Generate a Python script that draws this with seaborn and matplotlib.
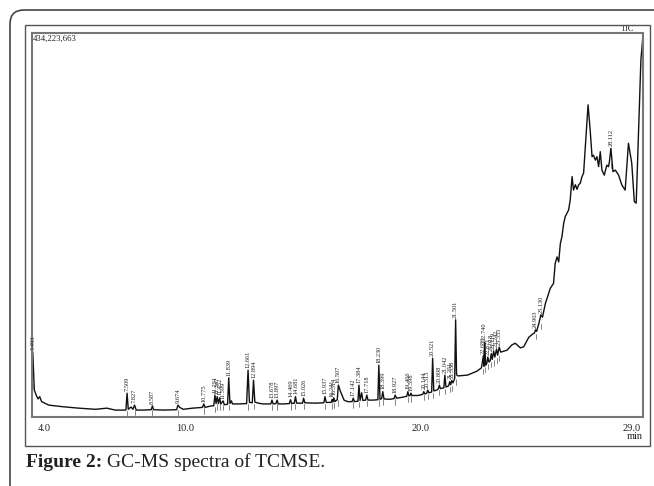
import numpy as np
import pandas as pd
import seaborn as sns
import matplotlib
matplotlib.use("Agg")
import matplotlib.pyplot as plt
from matplotlib.patches import Rectangle, FancyBboxPatch
from matplotlib.transforms import IdentityTransform

# labelled peaks: retention time (min) and apex height (% of max TIC)
peak_times = [3.493, 7.509, 7.827, 8.587, 9.674, 10.775, 11.251, 11.347, 11.452, 11.599,
              11.839, 12.661, 12.894, 13.678, 13.897, 14.469, 14.681, 15.026, 15.937, 16.241,
              16.314, 16.507, 17.142, 17.384, 17.718, 18.230, 18.399, 18.927, 19.466, 19.598,
              20.144, 20.313, 20.521, 20.808, 21.042, 21.251, 21.338, 21.501, 22.680, 22.740,
              22.871, 23.018, 23.119, 23.242, 23.355, 24.903, 25.130, 28.112]
peak_heights = [16.9, 6.2, 3.1, 2.9, 3.1, 3.4, 5.7, 5.3, 5.0, 4.2,
                10.2, 12.2, 9.6, 4.4, 4.4, 4.5, 5.3, 4.9, 5.3, 4.6,
                5.0, 8.3, 4.9, 8.3, 5.7, 13.5, 6.6, 5.7, 6.6, 6.2,
                6.6, 7.0, 15.3, 8.3, 10.9, 9.2, 9.5, 25.3, 15.9, 19.5,
                15.6, 16.5, 17.2, 17.7, 18.2, 22.7, 26.6, 70.0]

# rest of the TIC trace (baseline, peak feet, unlabelled bumps)
base_times = [3.47, 3.56, 3.64, 3.72, 3.79, 3.87, 4.17, 4.73, 5.45, 6.16,
              6.65, 7.00, 7.46, 7.56, 7.68, 7.76, 7.90, 8.20, 8.54, 8.64,
              9.10, 9.62, 9.75, 9.90, 10.30, 10.72, 10.83, 11.10, 11.20, 11.30,
              11.40, 11.50, 11.65, 11.79, 11.89, 11.95, 12.00, 12.30, 12.60, 12.72,
              12.84, 12.95, 13.10, 13.30, 13.63, 13.73, 13.85, 13.95, 14.20, 14.42,
              14.52, 14.63, 14.73, 14.98, 15.08, 15.50, 15.89, 15.99, 16.20, 16.28,
              16.36, 16.46, 16.60, 16.75, 16.90, 17.09, 17.19, 17.34, 17.43, 17.50,
              17.55, 17.67, 17.77, 18.00, 18.19, 18.28, 18.35, 18.45, 18.70, 18.88,
              18.98, 19.20, 19.42, 19.51, 19.56, 19.64, 19.90, 20.10, 20.19, 20.27,
              20.36, 20.48, 20.57, 20.70, 20.76, 20.85, 21.00, 21.09, 21.20, 21.29,
              21.39, 21.46, 21.54, 21.60, 22.00, 22.40, 22.60, 22.71, 22.78, 22.83,
              22.92, 22.97, 23.06, 23.17, 23.29, 23.42, 23.69, 23.90, 24.04, 24.26,
              24.40, 24.62, 24.78, 24.86, 24.95, 25.05, 25.20, 25.32, 25.53, 25.67,
              25.74, 25.82, 25.89, 25.96, 26.03, 26.10, 26.17, 26.31, 26.38, 26.46,
              26.52, 26.60, 26.67, 26.74, 26.81, 26.88, 26.95, 27.14, 27.23, 27.31,
              27.37, 27.45, 27.52, 27.59, 27.66, 27.73, 27.83, 27.94, 28.01, 28.05,
              28.20, 28.30, 28.44, 28.58, 28.72, 28.86, 29.00, 29.11, 29.19, 29.29,
              29.39, 29.48]
base_values = [9.1, 7.0, 5.7, 4.7, 5.3, 4.0, 3.1, 2.7, 2.3, 2.0,
               2.3, 1.8, 1.8, 2.0, 2.6, 2.0, 1.8, 1.8, 1.9, 1.9,
               1.8, 1.9, 2.5, 2.0, 2.3, 2.5, 2.5, 2.9, 2.9, 3.5,
               3.5, 3.4, 3.2, 3.3, 3.5, 4.2, 3.4, 3.4, 3.5, 3.8,
               3.7, 3.9, 3.6, 3.4, 3.4, 3.4, 3.5, 3.4, 3.4, 3.5,
               3.5, 3.6, 3.6, 3.6, 3.7, 3.6, 3.7, 3.8, 3.8, 3.9,
               4.0, 4.5, 6.6, 4.4, 4.0, 4.0, 4.0, 4.1, 4.3, 6.3,
               4.3, 4.4, 4.4, 4.4, 4.5, 4.6, 4.8, 4.7, 4.6, 4.8,
               4.9, 5.1, 5.4, 5.5, 5.6, 5.6, 5.6, 5.9, 6.0, 6.2,
               6.3, 6.5, 6.8, 7.0, 7.3, 7.4, 7.6, 7.8, 8.1, 8.4,
               8.9, 10.0, 11.0, 10.7, 10.9, 11.9, 12.8, 13.2, 13.5, 14.0,
               14.3, 14.6, 15.0, 15.6, 16.1, 16.9, 17.4, 18.8, 19.2, 18.0,
               18.3, 20.8, 21.6, 21.9, 22.3, 24.5, 26.0, 29.5, 33.5, 34.8,
               40.0, 41.7, 40.4, 45.2, 47.0, 50.4, 52.2, 53.9, 56.5, 62.6,
               59.1, 60.5, 59.3, 60.5, 60.9, 62.6, 63.5, 81.3, 74.7, 67.8,
               68.2, 66.9, 67.8, 65.2, 69.1, 64.3, 63.0, 65.6, 65.2, 66.5,
               63.9, 64.3, 63.0, 60.4, 59.1, 71.3, 66.1, 56.1, 55.7, 74.7,
               93.0, 99.5]

max_counts = "434,223,663"
tick_labels = {4: "4.0", 10: "10.0", 20: "20.0", 29: "29.0"}

trace = pd.DataFrame({"time": base_times + peak_times,
                      "intensity": base_values + peak_heights}).sort_values("time")

sns.set_style("white")
plt.rcParams["font.family"] = ["Liberation Serif", "DejaVu Serif"]

fig = plt.figure(figsize=(6.54, 4.86), dpi=100)
ax = fig.add_axes([0.0489, 0.142, 0.9343, 0.790])

sns.lineplot(data=trace, x="time", y="intensity", color="#111", linewidth=1.0,
             estimator=None, sort=True, ax=ax)

# small markers under each labelled peak, at the trace point just before it
tv = trace["time"].to_numpy()
iv = trace["intensity"].to_numpy()
for t, h in zip(peak_times, peak_heights):
    i = max(np.searchsorted(tv, t) - 1, 0)
    ax.plot([t, t], [iv[i] - 1.6, iv[i] - 0.2], color="#555", lw=0.5)
    ax.text(t, h + 0.6, f"{t:.3f}", rotation=90, ha="center", va="bottom",
            fontsize=4.6, color="#222")

ax.set_xlim(3.46, 29.48)
ax.set_ylim(0, 100)
ax.set_xticks(range(4, 30))
ax.set_xticklabels([tick_labels.get(v, "") for v in range(4, 30)])
ax.set_yticks([])
ax.set_xlabel("")
ax.set_ylabel("")
ax.tick_params(axis="x", direction="out", length=3, width=0.8, color="#666",
               labelsize=7.5, pad=2, labelcolor="#222")
for s in ax.spines.values():
    s.set_visible(True)
    s.set_color("#777")
    s.set_linewidth(1.5)

ax.text(0.002, 0.995, max_counts, transform=ax.transAxes, ha="left", va="top",
        fontsize=6.3, color="#222")
ax.text(0.985, 1.0, "TIC", transform=ax.transAxes, ha="right", va="bottom",
        fontsize=6, color="#222")
ax.text(1.0, -0.052, "min", transform=ax.transAxes, ha="right", va="center",
        fontsize=7.5, color="#222")

# frames around the chart
fig.add_artist(Rectangle((25 / 654, 40 / 486), 625 / 654, 421 / 486,
                         transform=fig.transFigure, fill=False, ec="#555", lw=1.0))
fig.add_artist(FancyBboxPatch((10, -20), 700, 496, boxstyle="round,pad=0,rounding_size=14",
                              transform=IdentityTransform(), fill=False, ec="#444", lw=1.2))

# caption: bold lead-in followed by plain text
lead = fig.text(26 / 654, 0.049, "Figure 2:", fontsize=14, fontweight="bold",
                ha="left", va="center", color="#222")
fig.canvas.draw()
lead_end = lead.get_window_extent().x1 / fig.bbox.width
fig.text(lead_end + 5 / 654, 0.049, "GC-MS spectra of TCMSE.", fontsize=14,
         ha="left", va="center", color="#222")

fig.savefig("out.png", dpi=100)
